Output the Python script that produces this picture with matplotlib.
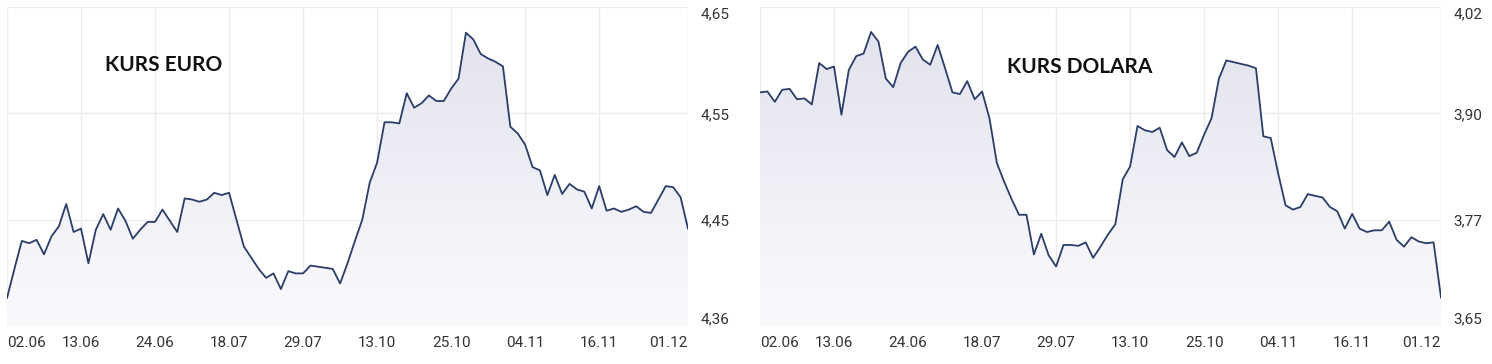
import numpy as np
import matplotlib.pyplot as plt
from matplotlib.colors import LinearSegmentedColormap

# kurs euro, notowania dzienne
euro = [4.385, 4.411, 4.436, 4.434, 4.437, 4.424, 4.440, 4.449, 4.469, 4.444,
        4.447, 4.416, 4.446, 4.460, 4.446, 4.465, 4.454, 4.438, 4.446, 4.453,
        4.453, 4.464, 4.454, 4.444, 4.474, 4.473, 4.471, 4.473, 4.479, 4.477,
        4.479, 4.455, 4.431, 4.421, 4.411, 4.403, 4.407, 4.393, 4.409, 4.407,
        4.407, 4.414, 4.413, 4.412, 4.411, 4.398, 4.416, 4.436, 4.455, 4.488,
        4.506, 4.542, 4.542, 4.541, 4.568, 4.555, 4.559, 4.566, 4.561, 4.561,
        4.572, 4.581, 4.622, 4.616, 4.603, 4.599, 4.596, 4.592, 4.538, 4.532,
        4.522, 4.502, 4.499, 4.477, 4.495, 4.478, 4.487, 4.482, 4.480, 4.465,
        4.485, 4.463, 4.465, 4.462, 4.464, 4.467, 4.462, 4.461, 4.473, 4.485,
        4.484, 4.475, 4.447]

# kurs dolara
dolar = [3.921, 3.922, 3.910, 3.924, 3.925, 3.913, 3.914, 3.907, 3.955, 3.948,
         3.951, 3.895, 3.947, 3.963, 3.966, 3.991, 3.980, 3.937, 3.927, 3.955,
         3.968, 3.974, 3.959, 3.953, 3.976, 3.949, 3.921, 3.919, 3.934, 3.913,
         3.922, 3.891, 3.839, 3.817, 3.797, 3.779, 3.779, 3.733, 3.757, 3.732,
         3.719, 3.744, 3.744, 3.743, 3.747, 3.729, 3.742, 3.756, 3.768, 3.820,
         3.835, 3.882, 3.877, 3.875, 3.880, 3.854, 3.846, 3.863, 3.847, 3.851,
         3.872, 3.891, 3.937, 3.958, 3.956, 3.954, 3.952, 3.949, 3.870, 3.868,
         3.827, 3.790, 3.785, 3.788, 3.803, 3.801, 3.799, 3.788, 3.783, 3.763,
         3.780, 3.763, 3.759, 3.761, 3.761, 3.771, 3.750, 3.742, 3.753, 3.748,
         3.746, 3.747, 3.683]

date_labels = ['02.06', '13.06', '24.06', '18.07', '29.07',
               '13.10', '25.10', '04.11', '16.11', '01.12']
date_idx = [0, 10, 20, 30, 40, 50, 60, 70, 80, 92]

euro_ticks = [4.36, 4.455, 4.55, 4.645]
euro_tick_labels = ['4,36', '4,45', '4,55', '4,65']
dolar_ticks = [3.65, 3.7733, 3.8967, 4.02]
dolar_tick_labels = ['3,65', '3,77', '3,90', '4,02']

LINE = '#2b3d68'
GRID = '#ececf0'
TEXT = '#333333'
fill_cmap = LinearSegmentedColormap.from_list('fill', ['#e1e1ee', '#fafafd'])


def draw_panel(ax, values, yticks, ylabels, title, title_x, title_y):
    x = np.arange(len(values))
    lo, hi = yticks[0], yticks[-1]

    # gradient under the line
    poly = ax.fill_between(x, values, lo, color='none', lw=0)
    grad = ax.imshow(np.linspace(0, 1, 256).reshape(-1, 1), cmap=fill_cmap,
                     aspect='auto', extent=[0, len(values) - 1, lo, hi],
                     origin='upper', zorder=1)
    grad.set_clip_path(poly.get_paths()[0], transform=ax.transData)

    ax.plot(x, values, color=LINE, lw=1.3, zorder=3)

    ax.set_xlim(0, len(values) - 1)
    ax.set_ylim(lo, hi)
    ax.set_xticks(date_idx)
    ax.set_xticklabels(date_labels)
    ax.set_yticks(yticks)
    ax.set_yticklabels(ylabels)
    ax.yaxis.tick_right()
    ax.grid(True, color=GRID, lw=1, zorder=0)
    ax.set_axisbelow(True)
    for s in ax.spines.values():
        s.set_visible(False)
    ax.tick_params(axis='both', length=0, labelsize=11, labelcolor=TEXT)
    ax.tick_params(axis='x', pad=7)
    ax.tick_params(axis='y', pad=9)

    xl = ax.get_xticklabels()
    xl[0].set_ha('left')
    xl[-1].set_ha('right')
    yl = ax.get_yticklabels()
    yl[0].set_va('bottom')
    yl[-1].set_va('top')
    for t in xl + yl:
        t.set_fontfamily('Roboto')

    ax.text(title_x, title_y, title, transform=ax.transAxes, ha='center',
            va='center', fontsize=15, fontweight='bold', family='Lato',
            color='#111111')


fig = plt.figure(figsize=(14.92, 3.64), dpi=100)
W, H = 1492, 364
ax1 = fig.add_axes([7 / W, 38 / H, 681 / W, 319 / H])
ax2 = fig.add_axes([760 / W, 38 / H, 681 / W, 319 / H])

draw_panel(ax1, euro, euro_ticks, euro_tick_labels, 'KURS EURO', 0.230, 0.818)
draw_panel(ax2, dolar, dolar_ticks, dolar_tick_labels, 'KURS DOLARA', 0.470, 0.813)

fig.savefig('out.png', dpi=100, facecolor='white')
